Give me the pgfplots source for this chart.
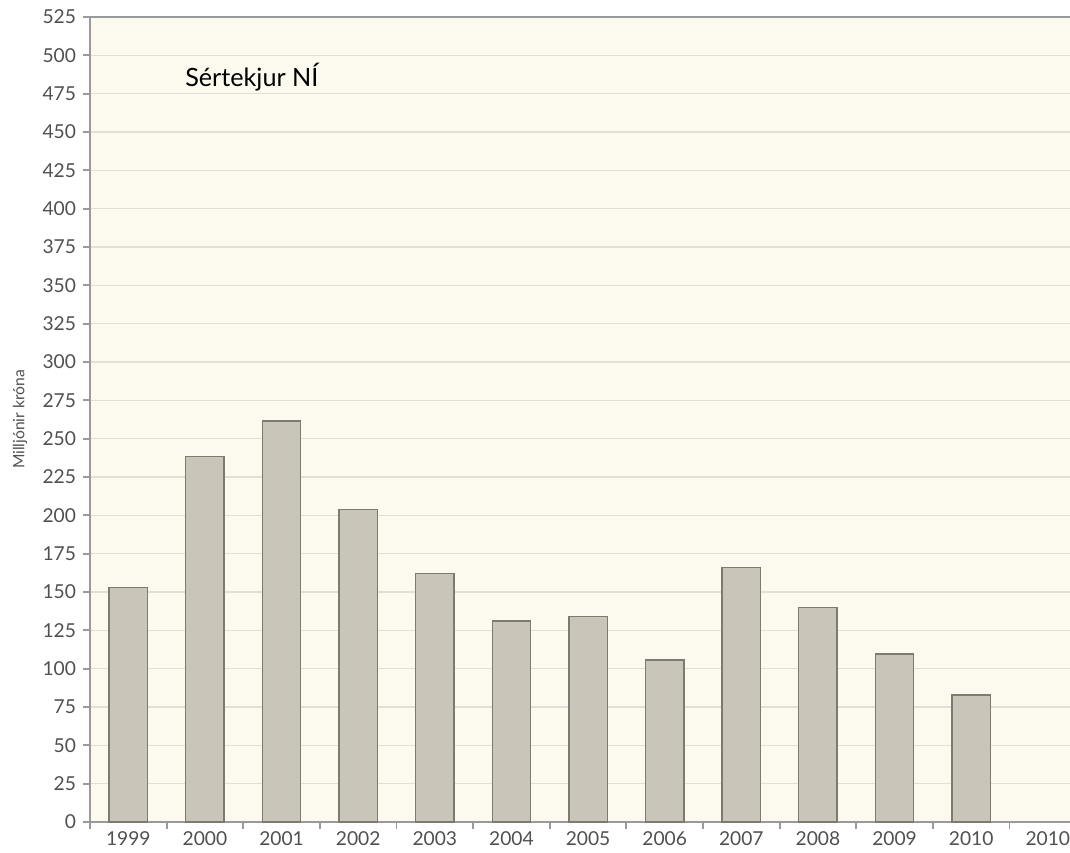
\documentclass[border=0pt]{standalone}
\usepackage{pgfplots}
\pgfplotsset{compat=1.18}
\usepackage{fontspec}
\setmainfont{Lato}
\definecolor{bgc}{HTML}{FCF9EE}
\definecolor{barc}{HTML}{C9C5B9}
\definecolor{bard}{HTML}{7D7A72}
\definecolor{gridc}{HTML}{E2DFD6}
\definecolor{axc}{HTML}{9A9A9A}
\definecolor{labc}{HTML}{505050}
\pgfplotstableread{
x y
0 153
1 238.5
2 261.5
3 204
4 162
5 131
6 134
7 105.7
8 166
9 140
10 109.6
11 82.8
}\datatable
\begin{document}
\begin{tikzpicture}
\begin{axis}[
  at={(0,0)}, anchor=south west,
  scale only axis, width=490pt, height=402.5pt,
  xmin=-0.5, xmax=12.29, ymin=0, ymax=525,
  axis lines*=left,
  axis line style={axc, line width=0.9pt},
  axis background/.style={fill=bgc},
  ytick={0,25,...,525},
  ymajorgrids, grid style={gridc, line width=0.7pt},
  tick align=outside,
  major tick length=3.5pt,
  tick style={axc, line width=0.9pt},
  xtick={-0.5,0.5,...,11.5},
  xticklabels={},
  extra x ticks={0,1,...,12},
  extra x tick labels={1999,2000,2001,2002,2003,2004,2005,2006,2007,2008,2009,2010,2010},
  extra x tick style={major tick length=0pt, grid=none},
  /pgf/number format/assume math mode=true,
  ticklabel style={font=\fontsize{9.6}{11}\selectfont, text=labc},
  xticklabel style={yshift=-1.2pt},
  yticklabel style={xshift=0pt},
  ylabel={Milljónir króna},
  ylabel style={font=\fontsize{7.8}{9}\selectfont, text=labc},
  y label style={at={(axis description cs:-0.0714,0.5)}, anchor=center},
  clip=false,
]
\addplot[ybar, bar width=0.5, fill=barc, draw=bard, line width=0.7pt] table[x=x,y=y]{\datatable};
\draw[axc, line width=0.9pt] (rel axis cs:0,1) -- (rel axis cs:1,1);
\node[anchor=west, font=\fontsize{12.6}{15}\selectfont] at (rel axis cs:0.09,0.925) {Sértekjur NÍ};
\end{axis}
\pgfresetboundingbox
\useasboundingbox (-45pt,-15pt) rectangle (490pt,411pt);
\end{tikzpicture}
\end{document}
